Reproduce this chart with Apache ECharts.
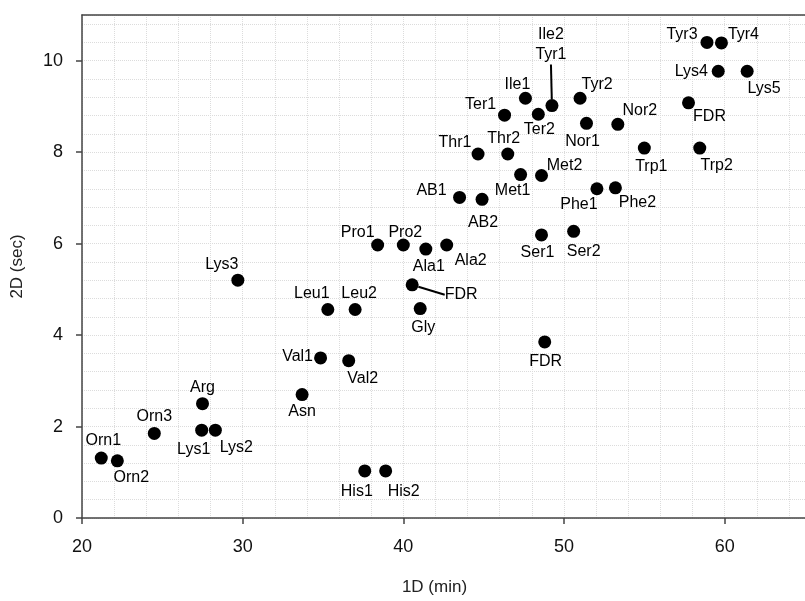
<!DOCTYPE html>
<html>
<head>
<meta charset="utf-8">
<title>1D vs 2D</title>
<script src="https://cdn.jsdelivr.net/npm/echarts/dist/echarts.min.js"></script>
<style>
  html, body { margin: 0; padding: 0; background: #fff; }
  #main { width: 805px; height: 601px; }
</style>
</head>
<body>
<div id="main"></div>
<script>
// compound names, 1D retention (min), 2D retention (sec)
var names = ['Orn1', 'Orn2', 'Orn3', 'Arg', 'Lys1', 'Lys2', 'Lys3', 'Asn', 'Val1', 'Val2',
  'Leu1', 'Leu2', 'His1', 'His2', 'Pro1', 'Pro2', 'Ala1', 'Ala2', 'FDR', 'Gly',
  'FDR', 'AB1', 'AB2', 'Thr1', 'Thr2', 'Met1', 'Met2', 'Ter1', 'Ile1', 'Ter2',
  'Ile2\nTyr1', 'Tyr2', 'Nor1', 'Nor2', 'Phe1', 'Phe2', 'Ser1', 'Ser2', 'Trp1', 'Trp2',
  'FDR', 'Tyr3', 'Tyr4', 'Lys4', 'Lys5'];
var dim1 = [21.2, 22.2, 24.5, 27.5, 27.45, 28.3, 29.7, 33.7, 34.85, 36.6,
  35.3, 37.0, 37.6, 38.9, 38.4, 40.0, 41.4, 42.7, 40.55, 41.05,
  48.8, 43.5, 44.9, 44.65, 46.5, 47.3, 48.6, 46.3, 47.6, 48.4,
  49.25, 51.0, 51.4, 53.35, 52.05, 53.2, 48.6, 50.6, 55.0, 58.45,
  57.75, 58.9, 59.8, 59.6, 61.4];
var dim2 = [1.31, 1.25, 1.85, 2.5, 1.92, 1.92, 5.2, 2.7, 3.5, 3.44,
  4.56, 4.56, 1.03, 1.03, 5.97, 5.97, 5.88, 5.97, 5.1, 4.58,
  3.85, 7.01, 6.97, 7.96, 7.96, 7.51, 7.49, 8.81, 9.18, 8.83,
  9.02, 9.18, 8.63, 8.61, 7.2, 7.22, 6.19, 6.27, 8.09, 8.09,
  9.08, 10.4, 10.39, 9.77, 9.77];
var xTicks = [20, 30, 40, 50, 60];
var yTicks = [0, 2, 4, 6, 8, 10];

// label placement (pixel shift of label centre from the dot), by point index
var labelShift = [
  [2, -18], [14, 17], [0, -17], [0, -16], [-8, 19], [21, 17], [-16, -16], [0, 17], [-23, -1], [14, 18],
  [-16, -16], [4, -16], [-8, 21], [18, 21], [-20, -12], [2, -12], [3, 17], [24, 16], [49, 10], [3, 19],
  [1, 20], [-28, -7], [1, 23], [-23, -11], [-4, -15], [-8, 16], [23, -10], [-24, -11], [-8, -14], [1, 15],
  [-1, -61], [17, -14], [-4, 18], [22, -14], [-18, 16], [22, 15], [-4, 18], [10, 20], [7, 19], [17, 18],
  [21, 14], [-25, -8], [22, -8], [-27, 0], [17, 17]
];
var withLeader = [18, 30];

var chart = echarts.init(document.getElementById('main'));

var points = names.map(function (n, i) {
  var item = { name: n, value: [dim1[i], dim2[i]] };
  if (withLeader.indexOf(i) >= 0) {
    item.labelLine = { show: true, lineStyle: { color: '#000', width: 2 } };
  }
  return item;
});

var fontFam = 'Liberation Sans, Arial, sans-serif';
var axisFont = { fontFamily: fontFam, fontSize: 18, color: '#111' };
var gridLine = { show: true, lineStyle: { color: '#dcdcdc', type: 'dotted', width: 1 } };
var frameLine = { show: true, onZero: false, lineStyle: { color: '#444', width: 1.5 } };

var option = {
  backgroundColor: '#fff',
  animation: false,
  grid: { left: 82, top: 15, right: -3, bottom: 78 },
  xAxis: [{
    type: 'value',
    min: xTicks[0], max: 65, interval: 10,
    name: '1D (min)',
    nameLocation: 'middle',
    nameGap: 61,
    nameTextStyle: { fontFamily: fontFam, fontSize: 17, color: '#222', padding: [0, 18, 0, 0] },
    axisLine: frameLine,
    axisTick: { show: true, inside: false, length: 6, lineStyle: { color: '#444', width: 1.5 } },
    axisLabel: Object.assign({ margin: 20, showMaxLabel: false }, axisFont),
    splitLine: gridLine,
    minorTick: { show: false, splitNumber: 5 },
    minorSplitLine: gridLine
  }, {
    // top frame line only
    type: 'value',
    position: 'top',
    min: xTicks[0], max: 65, interval: 10,
    axisLine: frameLine,
    axisTick: { show: false },
    axisLabel: { show: false },
    splitLine: { show: false }
  }],
  yAxis: {
    type: 'value',
    min: yTicks[0], max: 11, interval: 2,
    name: '2D (sec)',
    nameLocation: 'middle',
    nameGap: 56,
    nameRotate: 90,
    nameTextStyle: { fontFamily: fontFam, fontSize: 17, color: '#222' },
    axisLine: frameLine,
    axisTick: { show: true, inside: false, length: 6, lineStyle: { color: '#444', width: 1.5 } },
    axisLabel: Object.assign({ margin: 19, showMaxLabel: false }, axisFont),
    splitLine: gridLine,
    minorTick: { show: false, splitNumber: 5 },
    minorSplitLine: gridLine
  },
  series: [{
    type: 'scatter',
    xAxisIndex: 0,
    symbol: 'circle',
    symbolSize: 13,
    itemStyle: { color: '#000', opacity: 1 },
    label: {
      show: true,
      position: 'inside',
      formatter: '{b}',
      color: '#000',
      textBorderWidth: 0,
      fontFamily: fontFam,
      fontSize: 16,
      lineHeight: 20
    },
    labelLine: { show: false },
    labelLayout: function (params) {
      var s = labelShift[params.dataIndex];
      return { dx: s[0], dy: s[1] };
    },
    data: points
  }]
};

chart.setOption(option);
window.addEventListener('resize', function () {
  chart.resize();
});
</script>
</body>
</html>
